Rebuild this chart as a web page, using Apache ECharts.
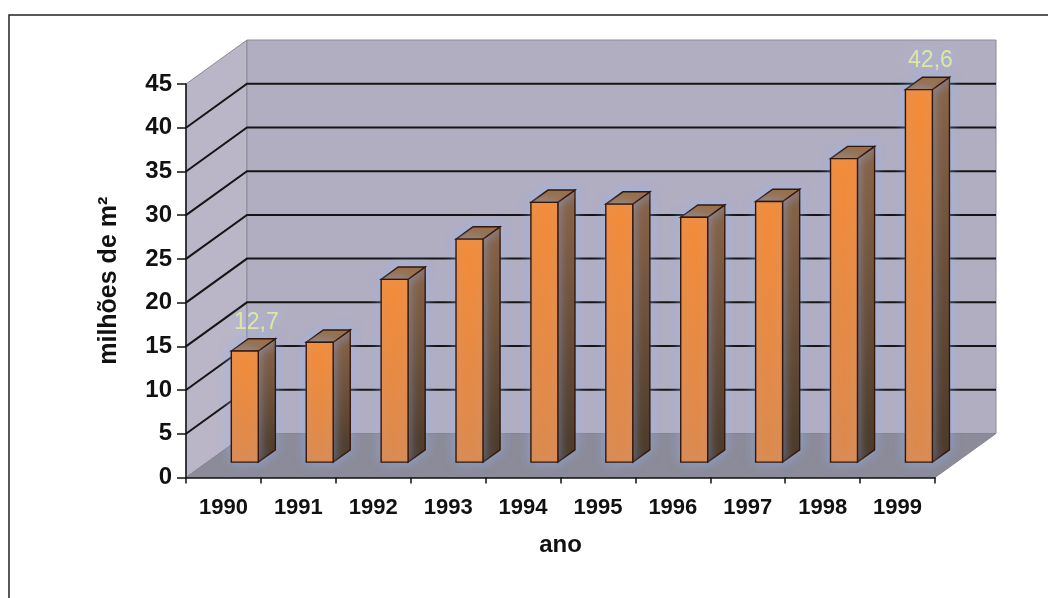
<!DOCTYPE html>
<html>
<head>
<meta charset="utf-8">
<script src="https://cdn.jsdelivr.net/npm/echarts@6/dist/echarts.min.js"></script>
<style>
  html, body { margin: 0; padding: 0; background: #ffffff; }
  #chart { width: 1048px; height: 598px; }
</style>
</head>
<body>
<div id="chart"></div>
<script>
// Área construída por ano (milhões de m²)
const years = ['1990', '1991', '1992', '1993', '1994', '1995', '1996', '1997', '1998', '1999'];
const areaMillions = [12.7, 13.7, 20.9, 25.5, 29.7, 29.5, 28.0, 29.8, 34.7, 42.6];
const yTicks = [0, 5, 10, 15, 20, 25, 30, 35, 40, 45];
// Years whose bar carries its value
const labelledYears = ['1990', '1999'];

// Oblique projection of the 3D box: pixel offset from front plane to back wall
const DEPTH_X = 61;
const DEPTH_Y = -44;
// Bar placement inside the depth (0 = front, 1 = back) and bar width within a band
const BAR_FRONT = 0.35;
const BAR_BACK = 0.63;
const BAR_WIDTH = 0.36;

const FONT = '"Liberation Sans", Arial, Helvetica, sans-serif';
const yMax = yTicks[yTicks.length - 1];

function fmt(v) {
  return v.toFixed(1).replace('.', ',');
}

function renderWalls(params, api) {
  const band = api.size([1, 0])[0];
  const x0 = api.coord([0, 0])[0] - band / 2;
  const x1 = api.coord([years.length - 1, 0])[0] + band / 2;
  const yBase = api.coord([0, 0])[1];
  const yTop = api.coord([0, yMax])[1];
  const dx = DEPTH_X, dy = DEPTH_Y;
  const children = [
    { // left side wall
      type: 'polygon',
      shape: { points: [[x0, yTop], [x0 + dx, yTop + dy], [x0 + dx, yBase + dy], [x0, yBase]] },
      style: { fill: '#bab6c8', stroke: '#8c8a96', lineWidth: 1 }
    },
    { // back wall
      type: 'polygon',
      shape: { points: [[x0 + dx, yTop + dy], [x1 + dx, yTop + dy], [x1 + dx, yBase + dy], [x0 + dx, yBase + dy]] },
      style: { fill: '#b2aec2', stroke: '#8c8a96', lineWidth: 1 }
    },
    { // floor
      type: 'polygon',
      shape: { points: [[x0, yBase], [x1, yBase], [x1 + dx, yBase + dy], [x0 + dx, yBase + dy]] },
      style: { fill: '#8c8b99', stroke: '#85848f', lineWidth: 1 }
    }
  ];
  yTicks.forEach(function (v) {
    if (v <= 0 || v >= yMax) return;
    const y = api.coord([0, v])[1];
    children.push({
      type: 'polyline',
      shape: { points: [[x0, y], [x0 + dx, y + dy], [x1 + dx, y + dy]] },
      style: { stroke: '#151515', lineWidth: 2, fill: null }
    });
  });
  return { type: 'group', children: children };
}

function renderBar(params, api) {
  const i = api.value(0);
  const v = api.value(1);
  const band = api.size([1, 0])[0];
  const w = band * BAR_WIDTH;
  const top = api.coord([i, v]);
  const base = api.coord([i, 0]);
  const ox = DEPTH_X * BAR_FRONT, oy = DEPTH_Y * BAR_FRONT;
  const ddx = DEPTH_X * (BAR_BACK - BAR_FRONT), ddy = DEPTH_Y * (BAR_BACK - BAR_FRONT);
  const L = top[0] - w / 2 + ox, R = top[0] + w / 2 + ox;
  const T = top[1] + oy, B = base[1] + oy;
  const edge = '#361608';
  const glow = 'rgba(140, 185, 255, 0.55)';
  const children = [
    { // side face
      type: 'polygon',
      shape: { points: [[R, T], [R + ddx, T + ddy], [R + ddx, B + ddy], [R, B]] },
      style: {
        fill: new echarts.graphic.LinearGradient(0, 0, 0, 1, [
          { offset: 0, color: '#8c6240' }, { offset: 1, color: '#47331f' }
        ]),
        stroke: edge, lineWidth: 1.4,
        shadowBlur: 12, shadowColor: glow
      }
    },
    { // top face
      type: 'polygon',
      shape: { points: [[L, T], [R, T], [R + ddx, T + ddy], [L + ddx, T + ddy]] },
      style: { fill: '#986a3e', stroke: edge, lineWidth: 1.4, shadowBlur: 12, shadowColor: glow }
    },
    { // front face
      type: 'rect',
      shape: { x: L, y: T, width: R - L, height: B - T },
      style: {
        fill: new echarts.graphic.LinearGradient(0, 0, 0, 1, [
          { offset: 0, color: '#f48c38' }, { offset: 1, color: '#dc8a4e' }
        ]),
        stroke: edge, lineWidth: 1.4,
        shadowBlur: 12, shadowColor: glow
      }
    }
  ];
  if (labelledYears.indexOf(years[i]) >= 0) {
    children.push({
      type: 'text',
      style: {
        text: fmt(v),
        x: (L + R + ddx) / 2 + 3,
        y: T + ddy - 5,
        align: 'center',
        verticalAlign: 'bottom',
        fill: '#e2e69c',
        font: '23px ' + FONT,
        textShadowBlur: 6,
        textShadowColor: 'rgba(140, 185, 255, 0.7)'
      }
    });
  }
  return { type: 'group', children: children };
}

const chart = echarts.init(document.getElementById('chart'), null, { renderer: 'canvas' });
chart.setOption({
  backgroundColor: '#ffffff',
  animation: false,
  graphic: [{
    type: 'rect',
    shape: { x: 9, y: 15, width: 1100, height: 700 },
    style: { fill: null, stroke: '#222222', lineWidth: 1.5 },
    z: 0
  }],
  grid: { left: 186, top: 84, width: 749, height: 393.5 },
  xAxis: {
    type: 'category',
    data: years,
    z: 10,
    name: 'ano',
    nameLocation: 'middle',
    nameGap: 56,
    nameTextStyle: { color: '#111', fontSize: 24, fontWeight: 'bold', fontFamily: FONT },
    axisLine: { show: true, lineStyle: { color: '#111', width: 1.5 } },
    axisTick: { show: true, length: 6, lineStyle: { color: '#111', width: 1.5 } },
    axisLabel: { color: '#111', fontSize: 22, fontWeight: 'bold', fontFamily: FONT, margin: 19 },
    splitLine: { show: false }
  },
  yAxis: {
    type: 'value',
    min: yTicks[0],
    max: yMax,
    interval: yTicks[1] - yTicks[0],
    z: 10,
    name: 'milhões de m²',
    nameLocation: 'middle',
    nameRotate: 90,
    nameGap: 64,
    nameTextStyle: { color: '#111', fontSize: 25, fontWeight: 'bold', fontFamily: FONT },
    axisLine: { show: true, lineStyle: { color: '#111', width: 1.5 } },
    axisTick: { show: true, length: 9, lineStyle: { color: '#111', width: 1.5 } },
    axisLabel: { color: '#111', fontSize: 24, fontWeight: 'bold', fontFamily: FONT, margin: 14 },
    splitLine: { show: false }
  },
  series: [
    {
      type: 'custom',
      name: 'paredes',
      renderItem: renderWalls,
      data: [[0, 0]],
      encode: { x: 0, y: 1 },
      silent: true,
      z: 1
    },
    {
      type: 'custom',
      name: 'área',
      renderItem: renderBar,
      data: areaMillions.map(function (v, i) { return [i, v]; }),
      encode: { x: 0, y: 1 },
      z: 3
    }
  ]
});
</script>
</body>
</html>
